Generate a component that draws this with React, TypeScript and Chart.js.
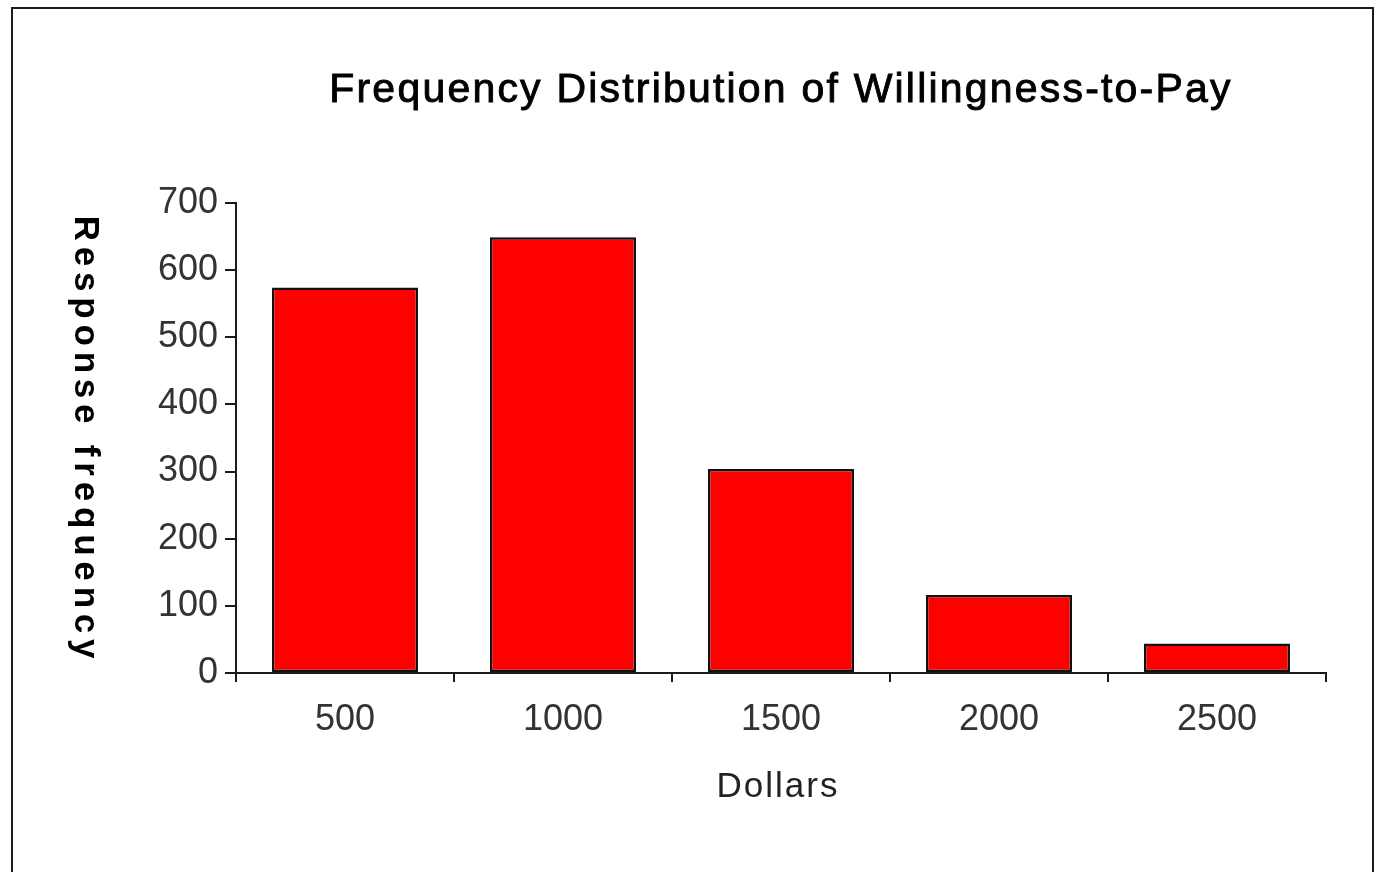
import React, { useEffect, useRef } from "react";
import { Chart, registerables } from "chart.js";

Chart.register(...registerables);

const categories = ["500", "1000", "1500", "2000", "2500"];
const frequencies = [574, 649, 304, 116, 44];
const yTicks = [0, 100, 200, 300, 400, 500, 600, 700];

const chartTitle = "Frequency Distribution of Willingness-to-Pay";
const xTitle = "Dollars";
const yTitle = "Response frequency";

const FONT = '"Liberation Sans", Arial, sans-serif';

const decorPlugin = {
  id: "decor",
  afterDraw(chart: any) {
    const ctx = chart.ctx as CanvasRenderingContext2D;
    const area = chart.chartArea;
    ctx.save();
    // frame
    ctx.strokeStyle = "#1a1a1a";
    ctx.lineWidth = 2;
    ctx.beginPath();
    ctx.moveTo(12, 880);
    ctx.lineTo(12, 8);
    ctx.lineTo(1373, 8);
    ctx.lineTo(1373, 880);
    ctx.stroke();

    const cx = (area.left + area.right) / 2;
    // title
    ctx.fillStyle = "#000";
    ctx.strokeStyle = "#000";
    ctx.lineWidth = 0.9;
    ctx.textAlign = "center";
    ctx.textBaseline = "alphabetic";
    ctx.font = `41px ${FONT}`;
    (ctx as any).letterSpacing = "2.2px";
    ctx.fillText(chartTitle, cx, 102);
    ctx.strokeText(chartTitle, cx, 102);

    // x title
    ctx.fillStyle = "#222";
    ctx.font = `35px ${FONT}`;
    (ctx as any).letterSpacing = "2px";
    ctx.fillText(xTitle, cx - 3, 797);

    // y title (rotated clockwise)
    ctx.fillStyle = "#000";
    ctx.font = `bold 35px ${FONT}`;
    (ctx as any).letterSpacing = "5.8px";
    ctx.translate(75, 440);
    ctx.rotate(Math.PI / 2);
    ctx.fillText(yTitle, 0, 0);
    ctx.restore();
  },
};

export default function App() {
  const ref = useRef<HTMLCanvasElement | null>(null);

  useEffect(() => {
    if (!ref.current) return;
    const chart = new Chart(ref.current, {
      type: "bar",
      data: {
        labels: categories,
        datasets: [
          {
            data: frequencies,
            backgroundColor: "#ff0000",
            borderColor: "#111",
            borderWidth: 2.5,
            borderSkipped: false,
            barPercentage: 0.67,
            categoryPercentage: 1,
          },
        ],
      },
      options: {
        responsive: false,
        animation: false,
        devicePixelRatio: 1,
        layout: { padding: { left: 0, top: 203, right: 59, bottom: 0 } },
        plugins: {
          legend: { display: false },
          title: { display: false },
          tooltip: { enabled: false },
        },
        scales: {
          x: {
            type: "category",
            offset: true,
            grid: {
              offset: true,
              drawOnChartArea: false,
              drawTicks: true,
              tickLength: 9,
              color: "#1a1a1a",
              lineWidth: 2,
            },
            border: { display: true, color: "#1a1a1a", width: 2 },
            ticks: {
              color: "#333",
              font: { family: FONT, size: 36 },
              padding: 16,
              maxRotation: 0,
            },
            afterFit(scale: any) {
              scale.height = 199;
            },
          },
          y: {
            min: 0,
            max: 700,
            afterBuildTicks(scale: any) {
              scale.ticks = yTicks.map((v) => ({ value: v }));
            },
            grid: {
              drawOnChartArea: false,
              drawTicks: true,
              tickLength: 11,
              color: "#1a1a1a",
              lineWidth: 2,
            },
            border: { display: true, color: "#1a1a1a", width: 2 },
            ticks: {
              color: "#333",
              font: { family: FONT, size: 36 },
              padding: 7,
            },
            afterFit(scale: any) {
              scale.width = 236;
            },
          },
        },
      },
      plugins: [decorPlugin],
    });
    return () => chart.destroy();
  }, []);

  return (
    <div style={{ position: "absolute", left: 0, top: 0, width: 1385, height: 872, background: "#fff" }}>
      <canvas ref={ref} width={1385} height={872} style={{ display: "block" }} />
    </div>
  );
}
